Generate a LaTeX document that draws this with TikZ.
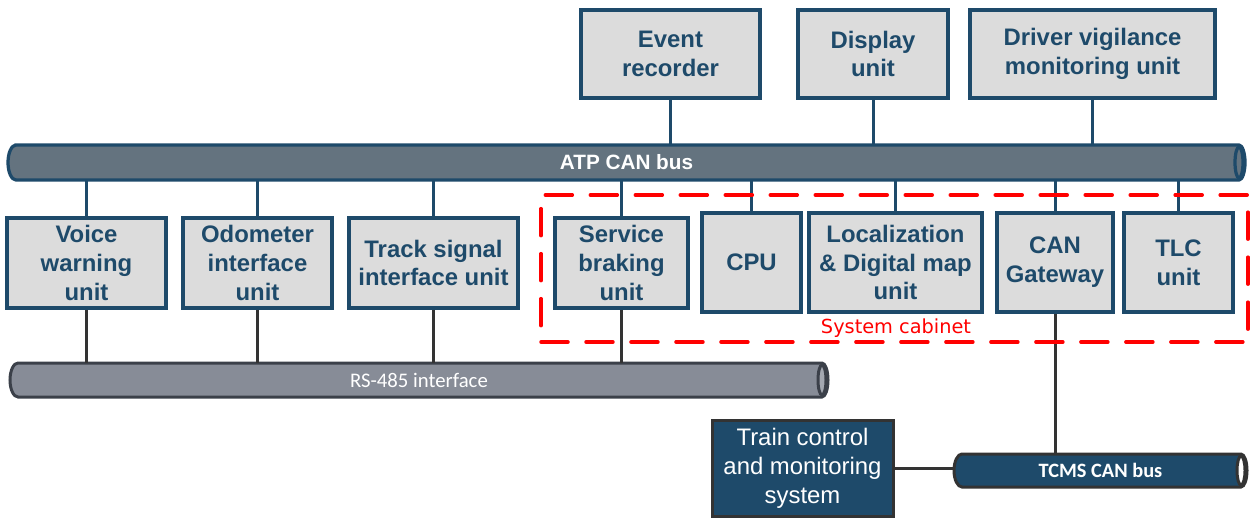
\documentclass[tikz,border=0pt]{standalone}
\usepackage{fontspec}
\setmainfont{Liberation Sans}
\newfontfamily\carlito{Carlito}
\newfontfamily\dejavu{DejaVu Sans}
\definecolor{navy}{HTML}{1E4A6A}
\definecolor{boxgray}{HTML}{DCDCDC}
\definecolor{atpfill}{HTML}{64737F}
\definecolor{rsfill}{HTML}{878C97}
\definecolor{rsdraw}{HTML}{3B4049}
\definecolor{rsend}{HTML}{A3A7B0}
\definecolor{darkline}{HTML}{333333}
\definecolor{cabred}{HTML}{FF0000}
\tikzset{
  x=0.02cm, y=0.02cm,
  unitbox/.style={draw=navy, line width=0.065cm, fill=boxgray, text=navy, align=center, inner sep=0pt,
    font=\fontsize{13.6}{16.4}\selectfont\bfseries},
  tcsbox/.style={draw=darkline, line width=0.06cm, fill=navy, text=white, align=center, inner sep=0pt,
    font=\fontsize{13.6}{16.4}\selectfont},
  navyline/.style={draw=navy, line width=0.06cm},
  grayline/.style={draw=darkline, line width=0.06cm},
  atpbody/.style={fill=atpfill, draw=navy, line width=0.065cm},
  atpend/.style={fill=atpfill, draw=navy, line width=0.065cm},
  atplabel/.style={text=white, inner sep=0pt, font=\fontsize{11.8}{13}\selectfont\bfseries},
  rsbody/.style={fill=rsfill, draw=rsdraw, line width=0.06cm},
  rsend/.style={fill=rsend, draw=rsdraw, line width=0.06cm},
  rslabel/.style={text=white, inner sep=0pt, font=\fontsize{11.8}{13}\selectfont\carlito},
  tcmsbody/.style={fill=navy, draw=darkline, line width=0.06cm},
  tcmsend/.style={fill=white, draw=darkline, line width=0.06cm},
  tcmslabel/.style={text=white, inner sep=0pt, font=\fontsize{11.6}{13}\selectfont\carlito\bfseries},
  cabinetframe/.style={draw=cabred, line width=0.07cm, dash pattern=on 0.54cm off 0.36cm, line cap=round, inner sep=0pt},
  cabinetlabel/.style={text=cabred, inner sep=0pt, font=\fontsize{11}{12}\selectfont\dejavu},
}
% name, xl, xr, yc, half height, style prefix, text
\newcommand\cylbus[7]{%
  \path[#6body] (#2+8,#4+#5) -- (#3-6,#4+#5) arc[start angle=90,end angle=-90,x radius=6,y radius=#5]
     -- (#2+8,#4-#5) arc[start angle=270,end angle=90,x radius=8,y radius=#5] -- cycle;
  \path[#6end] (#3-6,#4) ellipse[x radius=4,y radius=#5-2];
  \node[#6label, minimum width={(#3-#2)*0.02cm}, minimum height={2*#5*0.02cm}] (#1) at ({(#2+#3)/2},#4) {#7};
}
% name, xl, xr, ytop, ybottom, style
\newcommand\bx[6]{\node[#6, minimum width={(#3-#2)*0.02cm}, minimum height={(#5-#4)*0.02cm}] (#1) at ({(#2+#3)/2},{-(#4+#5)/2})}
\begin{document}
\begin{tikzpicture}
\useasboundingbox (0,0) rectangle (1250,-518);

% buses
\cylbus{atp}{8}{1245}{-162.5}{17.5}{atp}{ATP CAN bus}
\cylbus{rs}{10}{828}{-380}{17}{rs}{RS-485 interface}
\cylbus{tcms}{954}{1247}{-470.5}{16.5}{tcms}{TCMS CAN bus}

% top boxes
\bx{evt}{581}{760}{10}{98}{unitbox} {Event\\recorder};
\bx{disp}{798}{948}{10}{98}{unitbox} {Display\\unit};
\bx{dvm}{970}{1215}{10}{98}{unitbox} {Driver vigilance\\monitoring unit};

% middle boxes
\bx{voice}{7}{166}{218}{308}{unitbox} {Voice\\warning\\unit};
\bx{odo}{183}{332}{218}{308}{unitbox} {Odometer\\interface\\unit};
\bx{track}{349}{518}{218}{308}{unitbox} {Track signal\\interface unit};
\bx{sbu}{555}{688}{218}{308}{unitbox} {Service\\braking\\unit};
\bx{cpu}{702}{801}{213}{312}{unitbox} {CPU};
\bx{loc}{809}{982}{213}{312}{unitbox} {Localization\\\& Digital map\\unit};
\bx{cgw}{997}{1113}{213}{312}{unitbox} {CAN\\Gateway};
\bx{tlc}{1124}{1233}{213}{312}{unitbox} {TLC\\unit};

% bottom box
\bx{tcs}{712}{893}{420}{516}{tcsbox} {Train control\\and monitoring\\system};

% connectors to ATP CAN bus
\foreach \n in {evt,disp,dvm}
  \draw[navyline] (\n.south) -- (\n.south |- atp.north);
\foreach \n in {voice,odo,track,sbu,cpu,loc,cgw,tlc}
  \draw[navyline] (\n.north) -- (\n.north |- atp.south);

% connectors to RS-485
\foreach \n in {voice,odo,track,sbu}
  \draw[grayline] (\n.south) -- (\n.south |- rs.north);

% TCMS connections
\draw[grayline] (cgw.south) -- (cgw.south |- tcms.north);
\draw[grayline] (tcs.east) -- (tcs.east -| tcms.west);

% system cabinet
\node[cabinetframe, minimum width={707*0.02cm}, minimum height={147*0.02cm}] (cab) at (894.5,-268.5) {};
\node[cabinetlabel, anchor=base] (cablabel) at (896,-333) {System cabinet};
\end{tikzpicture}
\end{document}
